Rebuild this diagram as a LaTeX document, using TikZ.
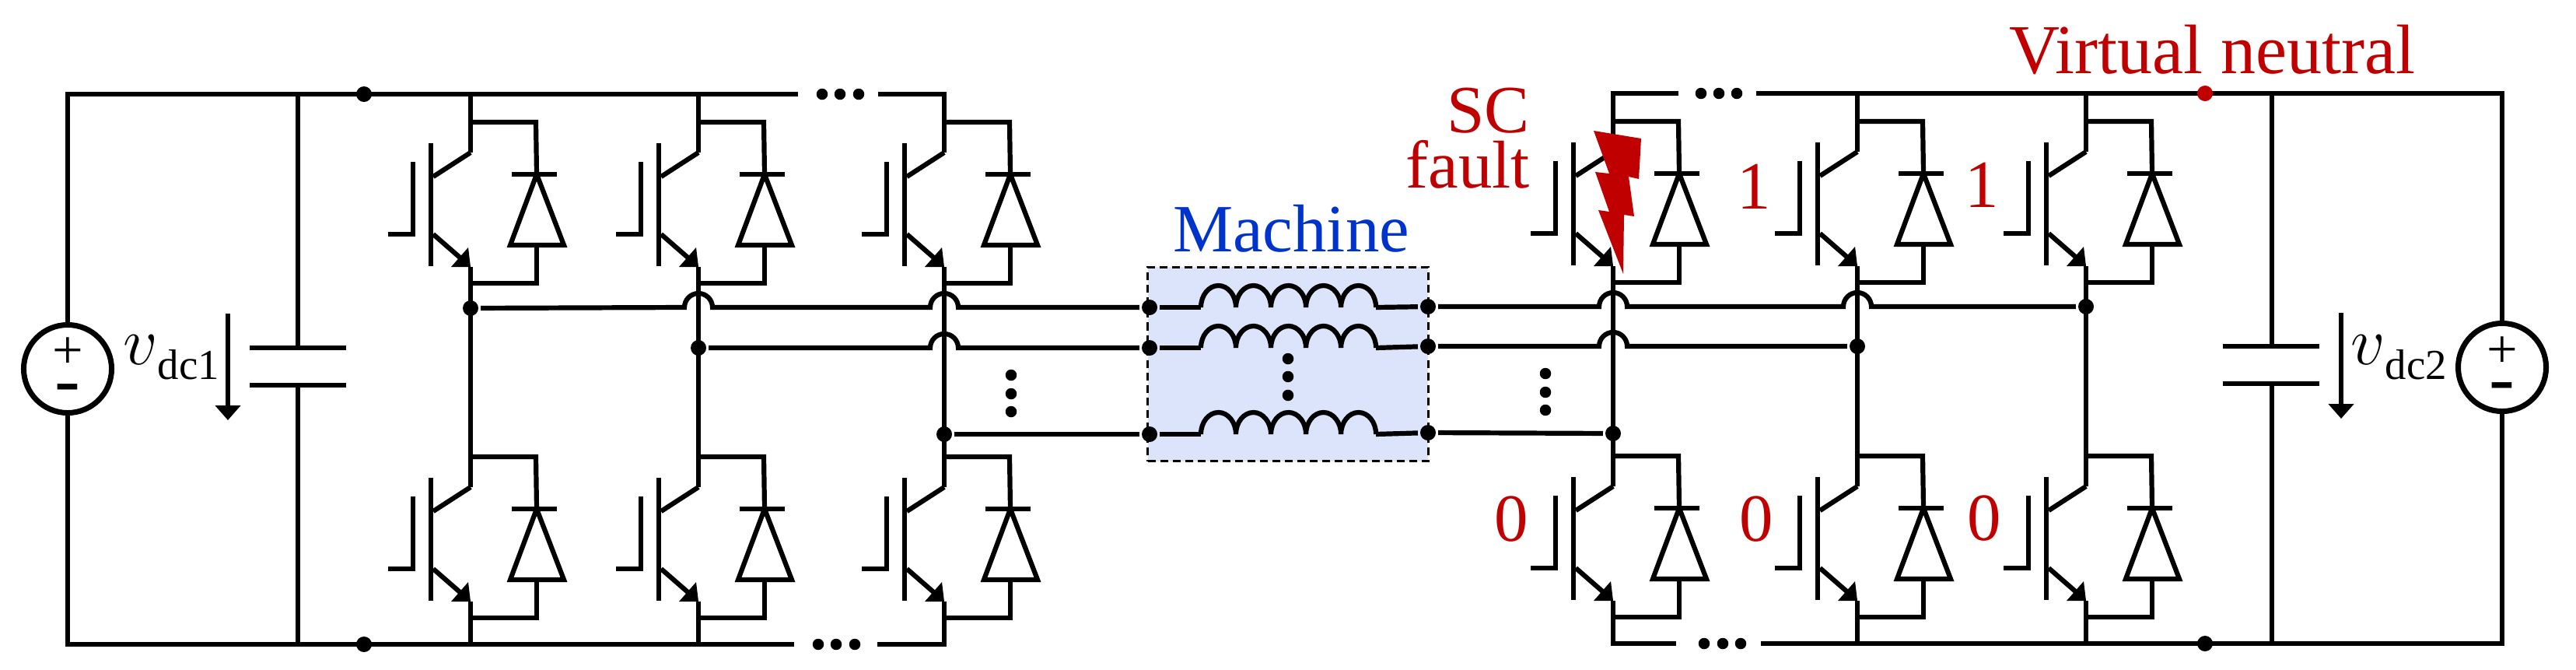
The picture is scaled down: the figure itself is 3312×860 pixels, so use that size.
\documentclass[tikz,border=0pt]{standalone}
\usepackage{fontspec}
\setmainfont{Liberation Serif}
\usepackage{tikz}
\usetikzlibrary{arrows.meta,calc}
\definecolor{faultred}{HTML}{C00000}
\definecolor{machblue}{HTML}{0033CC}
\definecolor{machfill}{HTML}{DCE4FC}
\newcommand{\hop}[1]{-- ($(#1)+(-18,0)$) arc[start angle=180,end angle=0,radius=0.18cm]}
\tikzset{
    igbt/.pic={
        \draw (0,0) -- (-48,31);
        \draw (-51,-12) -- (-51,146);
        \draw (-74,12) -- (-74,105) -- (-106,105);
        \draw (-48,105) -- (-9,139);
        \fill (-3,122) -- (0,147) -- (-25,147) -- cycle;
        \draw (0,-39) -- (84,-39) -- (85,28);
        \draw (53,28) -- (111,28);
        \draw (85,28) -- (51,119) -- (120,119) -- cycle;
        \draw (85,119) -- (85,168) -- (0,168);
        \coordinate (-c) at (0,0);
        \coordinate (-e) at (0,147);
    },
    coil/.pic={
        \draw (0,0) \foreach \i in {1,...,5}{arc[start angle=180,end angle=0,x radius=0.225cm,y radius=0.28cm]};
        \coordinate (-a) at (0,0);
        \coordinate (-b) at (225,0);
    }
}

\begin{document}
\begin{tikzpicture}[x=0.01cm,y=-0.01cm,line width=0.062cm]
    \tikzstyle{joint}=[circle,fill=black,inner sep=0pt,minimum size=0.2cm]
    \tikzstyle{ell}=[circle,fill=black,inner sep=0pt,minimum size=0.145cm]
    \tikzstyle{source}=[circle,draw,line width=0.07cm,inner sep=0pt,minimum size=1.13cm]
    \tikzstyle{lab}=[inner sep=0pt,font=\fontsize{24.7}{20.2pt}\selectfont]
    \tikzstyle{redlab}=[lab,text=faultred,anchor=base]
    \tikzstyle{volt}=[-{Triangle[length=0.19cm,width=0.32cm]},line width=0.055cm]
    \tikzstyle{machinebox}=[draw,fill=machfill,line width=0.03cm,dash pattern=on 0.1cm off 0.06cm,minimum width=3.6cm,minimum height=2.49cm,inner sep=0pt]
    \useasboundingbox (0,0) rectangle (3312,860);

    \node[machinebox](mach) at (1656,468){};
    \node[lab,text=machblue,anchor=base](machlab) at (1660,323){Machine};

    \node[source](v1) at (87,474){};
    \node[source](v2) at (3217,472){};
    \node[lab,anchor=base,font=\fontsize{20}{22}\selectfont](p1) at (87,473){+};
    \node[lab,anchor=base,font=\fontsize{28}{30}\selectfont](m1) at (87,520){-};
    \node[lab,anchor=base,font=\fontsize{20}{22}\selectfont](p2) at (3217,472){+};
    \node[lab,anchor=base,font=\fontsize{28}{30}\selectfont](m2) at (3217,518){-};

    \coordinate (tl) at (87,121);
    \coordinate (bl) at (87,828);
    \coordinate (tr) at (3217,120);
    \coordinate (br) at (3217,827);

    \pic (s1u) at (605,196) {igbt};
    \pic (s1d) at (605,626) {igbt};
    \pic (s2u) at (898,196) {igbt};
    \pic (s2d) at (898,626) {igbt};
    \pic (s3u) at (1214,196) {igbt};
    \pic (s3d) at (1214,626) {igbt};
    \pic (s4u) at (2074,195) {igbt};
    \pic (s4d) at (2074,625) {igbt};
    \pic (s5u) at (2388,195) {igbt};
    \pic (s5d) at (2388,625) {igbt};
    \pic (s6u) at (2682,195) {igbt};
    \pic (s6d) at (2682,625) {igbt};

    \coordinate (ct1) at (1026,121);
    \coordinate (ct2) at (1129,121);
    \coordinate (cb1) at (1021,828);
    \coordinate (cb2) at (1128,828);
    \coordinate (ct3) at (2158,120);
    \coordinate (ct4) at (2258,120);
    \coordinate (cb3) at (2155,827);
    \coordinate (cb4) at (2264,827);

    \draw (v1.north) -- (tl) -- (ct1);
    \draw (v1.south) -- (bl) -- (cb1);
    \draw (ct2) -- (s3u-c |- ct2) -- (s3u-c);
    \draw (cb2) -- (s3d-e |- cb2) -- (s3d-e);
    \draw (ct3) -- (s4u-c |- ct3) -- (s4u-c);
    \draw (cb3) -- (s4d-e |- cb3) -- (s4d-e);
    \draw (ct4) -- (tr) -- (v2.north);
    \draw (cb4) -- (br) -- (v2.south);

    \draw (s1u-c) -- (s1u-c |- tl);
    \draw (s2u-c) -- (s2u-c |- tl);
    \draw (s5u-c) -- (s5u-c |- tr);
    \draw (s6u-c) -- (s6u-c |- tr);
    \draw (s1d-e) -- (s1d-e |- bl);
    \draw (s2d-e) -- (s2d-e |- bl);
    \draw (s5d-e) -- (s5d-e |- br);
    \draw (s6d-e) -- (s6d-e |- br);

    \foreach \k in {1,...,6}
        \draw (s\k u-e) -- (s\k d-c);

    \coordinate (c1a) at (383,447);
    \coordinate (c1b) at (383,495);
    \coordinate (c2a) at (2921,445);
    \coordinate (c2b) at (2921,493);
    \draw (c1a) -- (c1a |- tl);
    \draw (c1b) -- (c1b |- bl);
    \draw (c2a) -- (c2a |- tr);
    \draw (c2b) -- (c2b |- br);
    \draw (321,447) -- (445,447);
    \draw (321,495) -- (445,495);
    \draw (2858,445) -- (2982,445);
    \draw (2858,493) -- (2982,493);

    \coordinate (a1) at (293,403);
    \coordinate (a2) at (293,540);
    \coordinate (a3) at (3010,402);
    \coordinate (a4) at (3010,538);
    \draw[volt] (a1) -- (a2);
    \draw[volt] (a3) -- (a4);
    \node[lab,anchor=base west](vdc1) at (155,468){$v$\raisebox{-0.19cm}{\fontsize{15.6}{18}\selectfont dc1}};
    \node[lab,anchor=base west](vdc2) at (3019,468){$v$\raisebox{-0.19cm}{\fontsize{15.6}{18}\selectfont dc2}};

    \node[joint](nt1) at (468,121){};
    \node[joint](nb1) at (468,828){};
    \node[joint,fill=faultred](nt2) at (2835,120){};
    \node[joint](nb2) at (2835,827){};

    \foreach \n/\x/\y in {a/1057/121,b/1080/121,c/1104/121,d/1052/828,e/1075/828,f/1099/828,g/2187/120,h/2210/120,i/2233/120,j/2191/827,k/2215/827,l/2238/827,m/1300/482,o/1300/506,p/1300/529,q/1656/461,r/1656/484,s/1656/508,t/1987/480,u/1987/504,v/1987/527}
        \node[ell](d\n) at (\x,\y){};

    \node[joint](n1) at (605,396){};
    \node[joint](n2) at (898,447){};
    \node[joint](n3) at (1214,558){};
    \node[joint](n4) at (2074,557){};
    \node[joint](n5) at (2388,445){};
    \node[joint](n6) at (2682,394){};
    \node[joint](ml1) at (1478,395){};
    \node[joint](ml2) at (1478,447){};
    \node[joint](ml3) at (1478,558){};
    \node[joint](mr1) at (1836,394){};
    \node[joint](mr2) at (1836,445){};
    \node[joint](mr3) at (1836,556){};

    \pic (l1) at (1544,395) {coil};
    \pic (l2) at (1544,447) {coil};
    \pic (l3) at (1544,558) {coil};
    \foreach \k in {1,2,3}{
        \draw (ml\k) -- (l\k-a);
        \draw (l\k-b) -- (mr\k);
    }

    \coordinate (h12) at (898,395);
    \coordinate (h13) at (1214,395);
    \coordinate (h23) at (1214,447);
    \coordinate (h41) at (2074,394);
    \coordinate (h51) at (2388,394);
    \coordinate (h42) at (2074,445);
    \draw (n1) \hop{h12} \hop{h13} -- (ml1);
    \draw (n2) \hop{h23} -- (ml2);
    \draw (n3) -- (ml3);
    \draw (mr1) \hop{h41} \hop{h51} -- (n6);
    \draw (mr2) \hop{h42} -- (n5);
    \draw (mr3) -- (n4);

    \fill[faultred] (2049,168) -- (2110,178) -- (2107,230) -- (2094,227) -- (2101,278) -- (2088,276) -- (2087,352) -- (2055,270) -- (2069,272) -- (2051,221) -- (2069,223) -- cycle;

    \node[lab,text=faultred,align=right,anchor=south east](fault) at (1970,245){SC\\fault};
    \node[lab,text=faultred,anchor=base west,font=\fontsize{25.6}{28}\selectfont](neutral) at (2580,94){Virtual neutral};
    \node[redlab](g5) at (2255,268){1};
    \node[redlab](g6) at (2548,266){1};
    \node[redlab](g7) at (1943,695){0};
    \node[redlab](g8) at (2258,695){0};
    \node[redlab](g9) at (2551,694){0};
\end{tikzpicture}
\end{document}
